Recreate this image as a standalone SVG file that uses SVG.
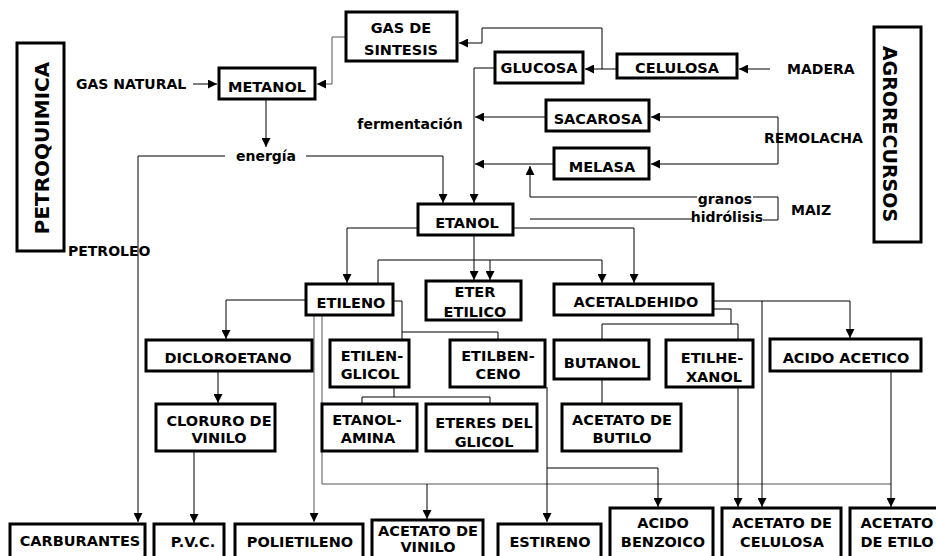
<svg xmlns="http://www.w3.org/2000/svg" width="936" height="556" viewBox="0 0 936 556">
<defs>
<marker id="ah" viewBox="0 0 10 10" refX="10" refY="5" markerWidth="9" markerHeight="9" markerUnits="userSpaceOnUse" orient="auto">
<path d="M0,0 L10,5 L0,10 z" fill="#000"/>
</marker>
<style>
.b{fill:#fff;stroke:#000;stroke-width:3}
.t{font-family:"DejaVu Sans","Verdana",sans-serif;font-weight:bold;font-size:14.5px;fill:#000;text-anchor:middle}
.s{font-family:"DejaVu Sans","Verdana",sans-serif;font-weight:bold;font-size:14px;fill:#000}
.big{font-family:"DejaVu Sans","Verdana",sans-serif;font-weight:bold;font-size:20px;fill:#000;text-anchor:middle}
.c{fill:none;stroke:#000;stroke-width:1}
.g{stroke:#555}
.a{marker-end:url(#ah)}
</style>
</defs>
<rect width="936" height="556" fill="#fff"/>

<g id="connectors">
<line class="c a" x1="193" y1="84" x2="217" y2="84"/>
<polyline class="c g a" points="346,37 332,37 332,84 317,84"/>
<line class="c a" x1="617" y1="69" x2="585" y2="69"/>
<polyline class="c a" points="602,69 602,28 482,28 482,43 459,43"/>
<line class="c a" x1="770" y1="69" x2="739" y2="69"/>
<polyline class="c a" points="495,68 474,68 474,203"/>
<line class="c a" x1="546" y1="117" x2="475" y2="117"/>
<line class="c a" x1="554" y1="164" x2="475" y2="164"/>
<polyline class="c a" points="778,140 778,117 651,117"/>
<polyline class="c a" points="778,140 778,164 651,164"/>
<polyline class="c a" points="697,197 530,197 530,166"/>
<polyline class="c" points="530,219 692,219"/>
<polyline class="c" points="753,197 778,197 778,220 763,220"/>
<line class="c a" x1="266" y1="99" x2="266" y2="147"/>
<polyline class="c a" points="225,156 138,156 138,522"/>
<polyline class="c a" points="306,156 443,156 443,203"/>
<polyline class="c a" points="418,228 347,228 347,283"/>
<line class="c a" x1="474" y1="235" x2="474" y2="280"/>
<polyline class="c a" points="513,228 634,228 634,283"/>
<polyline class="c a" points="378,284 378,260 602,260 602,283"/>
<line class="c a" x1="490" y1="260" x2="490" y2="280"/>
<polyline class="c a" points="306,300 226,300 226,339"/>
<polyline class="c" points="393,301 402,301 402,340"/>
<polyline class="c" points="402,332 498,332 498,340"/>
<line class="c g a" x1="314" y1="315" x2="314" y2="522"/>
<polyline class="c g" points="322,315 322,484 891,484"/>
<line class="c a" x1="427" y1="484" x2="427" y2="519"/>
<line class="c a" x1="891" y1="371" x2="891" y2="507"/>
<line class="c a" x1="547" y1="387" x2="547" y2="522"/>
<polyline class="c a" points="547,468 658,468 658,507"/>
<line class="c" x1="394" y1="387" x2="394" y2="397"/>
<polyline class="c" points="362,404 362,397 490,397 490,404"/>
<polyline class="c a" points="713,301 850,301 850,338"/>
<line class="c a" x1="762" y1="301" x2="762" y2="507"/>
<polyline class="c" points="713,309 731,309 731,324"/>
<polyline class="c" points="602,340 602,324 738,324 738,340"/>
<line class="c" x1="602" y1="379" x2="602" y2="404"/>
<line class="c a" x1="738" y1="387" x2="738" y2="507"/>
<line class="c a" x1="218" y1="371" x2="218" y2="403"/>
<line class="c a" x1="194" y1="451" x2="194" y2="523"/>
</g>

<g id="labels">
<text class="s" x="76" y="89">GAS NATURAL</text>
<text class="s" x="266" y="161" text-anchor="middle">energía</text>
<text class="s" x="410" y="129" text-anchor="middle">fermentación</text>
<text class="s" x="725" y="204" text-anchor="middle">granos</text>
<text class="s" x="727" y="222" text-anchor="middle">hidrólisis</text>
<text class="s" x="791" y="215">MAIZ</text>
<text class="s" x="764" y="143">REMOLACHA</text>
<text class="s" x="787" y="74">MADERA</text>
<text class="s" x="68" y="256">PETROLEO</text>
</g>

<g id="petroquimica">
<rect class="b" x="17" y="43" width="47" height="208"/>
<text class="big" transform="translate(49,148) rotate(-90)">PETROQUIMICA</text>
</g>
<g id="agrorecursos">
<rect class="b" x="874" y="27" width="47" height="215"/>
<text class="big" style="font-size:19px" transform="translate(883,134) rotate(90)">AGRORECURSOS</text>
</g>

<g id="metanol"><rect class="b" x="219" y="68" width="96" height="31"/><text class="t" x="267" y="92">METANOL</text></g>
<g id="gas-sintesis"><rect class="b" x="346" y="12" width="111" height="49"/><text class="t" x="401" y="33">GAS DE</text><text class="t" x="401" y="55">SINTESIS</text></g>
<g id="glucosa"><rect class="b" x="495" y="52" width="88" height="31"/><text class="t" x="539" y="73">GLUCOSA</text></g>
<g id="celulosa"><rect class="b" x="617" y="54" width="120" height="24"/><text class="t" x="677" y="73">CELULOSA</text></g>
<g id="sacarosa"><rect class="b" x="546" y="100" width="103" height="31"/><text class="t" x="598" y="124">SACAROSA</text></g>
<g id="melasa"><rect class="b" x="554" y="148" width="95" height="31"/><text class="t" x="602" y="172">MELASA</text></g>
<g id="etanol"><rect class="b" x="418" y="204" width="95" height="31"/><text class="t" x="467" y="228">ETANOL</text></g>
<g id="etileno"><rect class="b" x="306" y="284" width="87" height="31"/><text class="t" x="351" y="308">ETILENO</text></g>
<g id="eter-etilico"><rect class="b" x="426" y="281" width="95" height="39"/><text class="t" x="475" y="297">ETER</text><text class="t" x="475" y="317">ETILICO</text></g>
<g id="acetaldehido"><rect class="b" x="554" y="284" width="159" height="31"/><text class="t" x="636" y="307">ACETALDEHIDO</text></g>
<g id="dicloroetano"><rect class="b" x="146" y="340" width="166" height="31"/><text class="t" x="228" y="363">DICLOROETANO</text></g>
<g id="etilenglicol"><rect class="b" x="330" y="340" width="79" height="47"/><text class="t" x="372" y="361">ETILEN-</text><text class="t" x="370" y="379">GLICOL</text></g>
<g id="etilbenceno"><rect class="b" x="450" y="340" width="95" height="47"/><text class="t" x="498" y="361">ETILBEN-</text><text class="t" x="498" y="379">CENO</text></g>
<g id="butanol"><rect class="b" x="554" y="340" width="95" height="39"/><text class="t" x="602" y="368">BUTANOL</text></g>
<g id="etilhexanol"><rect class="b" x="666" y="340" width="87" height="47"/><text class="t" x="712" y="363">ETILHE-</text><text class="t" x="714" y="382">XANOL</text></g>
<g id="acido-acetico"><rect class="b" x="770" y="339" width="151" height="32"/><text class="t" x="846" y="363">ACIDO ACETICO</text></g>
<g id="cloruro-vinilo"><rect class="b" x="156" y="404" width="119" height="47"/><text class="t" x="219" y="426">CLORURO DE</text><text class="t" x="219" y="443">VINILO</text></g>
<g id="etanolamina"><rect class="b" x="322" y="404" width="95" height="47"/><text class="t" x="367" y="425">ETANOL-</text><text class="t" x="368" y="443">AMINA</text></g>
<g id="eteres-glicol"><rect class="b" x="426" y="404" width="111" height="47"/><text class="t" x="484" y="428">ETERES DEL</text><text class="t" x="484" y="447">GLICOL</text></g>
<g id="acetato-butilo"><rect class="b" x="562" y="404" width="119" height="47"/><text class="t" x="622" y="425">ACETATO DE</text><text class="t" x="622" y="443">BUTILO</text></g>
<g id="carburantes"><rect class="b" x="10" y="524" width="135" height="34"/><text class="t" x="80" y="546">CARBURANTES</text></g>
<g id="pvc"><rect class="b" x="154" y="524" width="70" height="34"/><text class="t" x="193" y="547">P.V.C.</text></g>
<g id="polietileno"><rect class="b" x="235" y="524" width="128" height="34"/><text class="t" x="300" y="547">POLIETILENO</text></g>
<g id="acetato-vinilo"><rect class="b" x="372" y="520" width="111" height="38"/><text class="t" x="428" y="536">ACETATO DE</text><text class="t" x="428" y="552">VINILO</text></g>
<g id="estireno"><rect class="b" x="498" y="524" width="103" height="34"/><text class="t" x="550" y="547">ESTIRENO</text></g>
<g id="acido-benzoico"><rect class="b" x="610" y="508" width="103" height="50"/><text class="t" x="663" y="528">ACIDO</text><text class="t" x="663" y="547">BENZOICO</text></g>
<g id="acetato-celulosa"><rect class="b" x="722" y="508" width="119" height="50"/><text class="t" x="782" y="528">ACETATO DE</text><text class="t" x="782" y="547">CELULOSA</text></g>
<g id="acetato-etilo"><rect class="b" x="850" y="508" width="100" height="50"/><text class="t" x="897" y="528">ACETATO</text><text class="t" x="897" y="547">DE ETILO</text></g>
</svg>
